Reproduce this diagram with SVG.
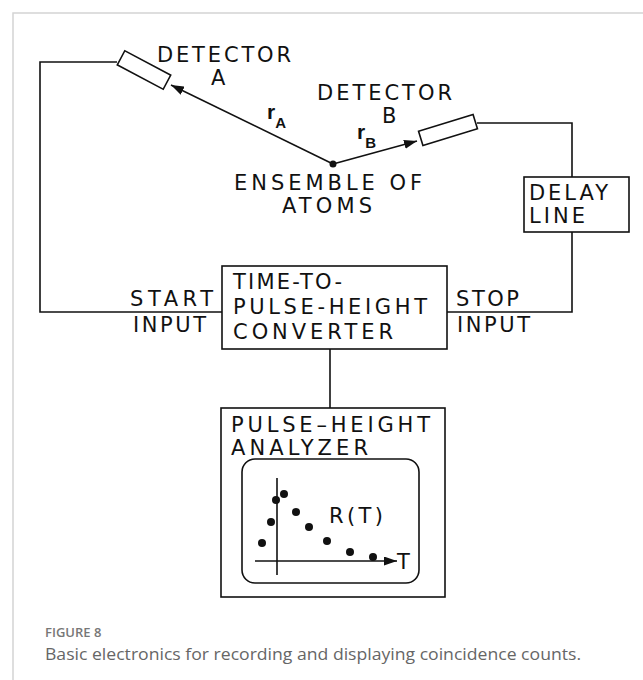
<svg xmlns="http://www.w3.org/2000/svg" width="643" height="680" viewBox="0 0 643 680">
<defs>
<style>
.ln{fill:none;stroke:#111;stroke-width:1.6}
.bx{fill:#fff;stroke:#111;stroke-width:1.6}
.t{font-family:"DejaVu Sans","Liberation Sans",Arial,sans-serif;font-size:21px;fill:#111}
.b{font-family:"Liberation Sans",Arial,sans-serif;font-weight:bold;fill:#111}
.dot{fill:#111}
.cap1{font-family:"Open Sans","Noto Sans",sans-serif;font-size:13px;font-weight:600;fill:#777}
.cap2{font-family:"Open Sans","Noto Sans",sans-serif;font-size:16px;fill:#666}
</style>
<marker id="ah" viewBox="0 0 13 9" refX="13" refY="4.5" markerWidth="13" markerHeight="9" markerUnits="userSpaceOnUse" orient="auto">
<path d="M0,0 L13,4.5 L0,9 Z" fill="#111"/>
</marker>
</defs>
<rect width="643" height="680" fill="#fff"/>
<path d="M13,680 V13 H643" fill="none" stroke="#d4d4d4" stroke-width="1.5"/>

<g id="connectors">
<path class="ln" d="M117,62 H40 V312 H222"/>
<path class="ln" d="M477,123 H572 V177"/>
<path class="ln" d="M572,232 V312 H447"/>
<path class="ln" d="M330,349 V408"/>
<line class="ln" x1="333" y1="164" x2="171" y2="85" marker-end="url(#ah)"/>
<line class="ln" x1="333" y1="164" x2="417" y2="141" marker-end="url(#ah)"/>
<text class="b" x="267" y="119" font-size="21">r<tspan font-size="15" dy="9">A</tspan></text>
<text class="b" x="357" y="139" font-size="21">r<tspan font-size="15" dy="9">B</tspan></text>
</g>

<g id="detector-a">
<rect class="bx" x="-26" y="-8" width="52" height="16" transform="translate(144,70) rotate(28)"/>
<text class="t" x="157" y="62" font-size="20" textLength="134" lengthAdjust="spacing">DETECTOR</text>
<text class="t" x="211" y="85" font-size="20">A</text>
</g>

<g id="detector-b">
<rect class="bx" x="-28.5" y="-7.5" width="57" height="15" transform="translate(448,130) rotate(-17)"/>
<text class="t" x="317" y="100" font-size="20" textLength="135" lengthAdjust="spacing">DETECTOR</text>
<text class="t" x="382" y="123" font-size="20">B</text>
</g>

<g id="ensemble">
<circle class="dot" cx="333" cy="164" r="3.5"/>
<text class="t" x="234" y="190" font-size="22" textLength="188" lengthAdjust="spacing">ENSEMBLE  OF</text>
<text class="t" x="282" y="213" font-size="22" textLength="90" lengthAdjust="spacing">ATOMS</text>
</g>

<g id="delay-line">
<rect class="bx" x="524" y="177" width="105" height="55"/>
<text class="t" x="529" y="200" textLength="79" lengthAdjust="spacing">DELAY</text>
<text class="t" x="529" y="223" textLength="56" lengthAdjust="spacing">LINE</text>
</g>

<g id="start-input">
<text class="t" x="130" y="306" textLength="83" lengthAdjust="spacing">START</text>
<text class="t" x="133" y="332" textLength="73" lengthAdjust="spacing">INPUT</text>
</g>

<g id="stop-input">
<text class="t" x="456" y="306" textLength="63" lengthAdjust="spacing">STOP</text>
<text class="t" x="457" y="332" textLength="73" lengthAdjust="spacing">INPUT</text>
</g>

<g id="converter">
<rect class="bx" x="222" y="266" width="225" height="83"/>
<text class="t" x="233" y="289" font-size="22" textLength="109" lengthAdjust="spacing">TIME-TO-</text>
<text class="t" x="233" y="314" font-size="22" textLength="194" lengthAdjust="spacing">PULSE-HEIGHT</text>
<text class="t" x="233" y="339" font-size="22" textLength="160" lengthAdjust="spacing">CONVERTER</text>
</g>

<g id="analyzer">
<rect class="bx" x="221" y="408" width="224" height="189"/>
<text class="t" x="231" y="432" font-size="22" textLength="199" lengthAdjust="spacing">PULSE–HEIGHT</text>
<text class="t" x="231" y="455" font-size="22" textLength="137" lengthAdjust="spacing">ANALYZER</text>
<rect class="bx" x="242" y="459" width="177" height="124" rx="13"/>
<line class="ln" x1="277" y1="478" x2="277" y2="575"/>
<line class="ln" x1="255" y1="561" x2="397" y2="561" marker-end="url(#ah)"/>
<text class="t" x="397" y="569" font-size="18">T</text>
<text class="t" x="329" y="523" font-size="21" textLength="54" lengthAdjust="spacing">R(T)</text>
<circle class="dot" cx="262" cy="543" r="4"/>
<circle class="dot" cx="271" cy="522" r="4"/>
<circle class="dot" cx="276" cy="500" r="4"/>
<circle class="dot" cx="284" cy="494" r="4"/>
<circle class="dot" cx="296" cy="512" r="4"/>
<circle class="dot" cx="309" cy="527" r="4"/>
<circle class="dot" cx="327" cy="541" r="4"/>
<circle class="dot" cx="350" cy="552" r="4"/>
<circle class="dot" cx="373" cy="557" r="4"/>
</g>

<g id="caption">
<text class="cap1" x="45" y="637">FIGURE 8</text>
<text class="cap2" x="45" y="660" textLength="536" lengthAdjust="spacingAndGlyphs">Basic electronics for recording and displaying coincidence counts.</text>
</g>
</svg>
